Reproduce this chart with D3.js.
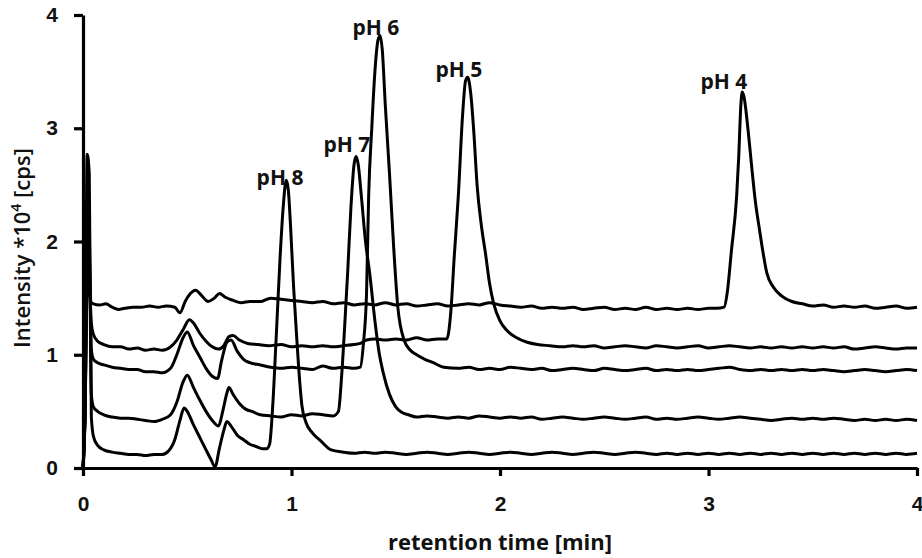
<!DOCTYPE html>
<html>
<head>
<meta charset="utf-8">
<script src="https://cdn.jsdelivr.net/npm/d3@7.9.0/dist/d3.min.js"></script>
<style>
  body { margin: 0; background: #fff; }
  svg { display: block; font-family: 'Open Sans', sans-serif; }
  .axis path, .axis line { stroke: #000; stroke-width: 3.2; }
  .axis text { font-size: 21px; font-weight: 700; fill: #111; }
</style>
</head>
<body>
<div id="chart"></div>
<script>
// retention time [min], intensity *10^4 [cps]
const pH4 = [[0,0],[0.01,0.5],[0.02,1.6],[0.03,1.55],[0.04,1.46],[0.05,1.45],[0.08,1.44],[0.11,1.45],[0.14,1.42],[0.17,1.40],[0.20,1.41],[0.24,1.42],[0.28,1.42],[0.32,1.43],[0.36,1.42],[0.40,1.43],[0.44,1.42],[0.465,1.37],[0.49,1.47],[0.515,1.54],[0.54,1.57],[0.57,1.52],[0.60,1.47],[0.63,1.50],[0.655,1.54],[0.68,1.51],[0.72,1.48],[0.76,1.46],[0.80,1.47],[0.85,1.47],[0.90,1.50],[0.95,1.49],[1.00,1.48],[1.05,1.47],[1.10,1.46],[1.15,1.47],[1.20,1.45],[1.25,1.46],[1.30,1.44],[1.35,1.45],[1.40,1.44],[1.45,1.46],[1.50,1.44],[1.55,1.45],[1.60,1.43],[1.65,1.44],[1.70,1.45],[1.75,1.43],[1.80,1.44],[1.85,1.45],[1.90,1.44],[1.95,1.46],[2.00,1.44],[2.05,1.43],[2.10,1.42],[2.15,1.43],[2.20,1.41],[2.25,1.42],[2.30,1.41],[2.35,1.42],[2.40,1.40],[2.45,1.41],[2.50,1.42],[2.55,1.40],[2.60,1.41],[2.65,1.40],[2.70,1.42],[2.75,1.40],[2.80,1.41],[2.85,1.40],[2.90,1.41],[2.95,1.40],[3.00,1.41],[3.04,1.41],[3.075,1.42],[3.09,1.55],[3.11,1.92],[3.135,2.40],[3.145,2.75],[3.155,3.20],[3.162,3.32],[3.17,3.28],[3.19,2.98],[3.205,2.70],[3.225,2.35],[3.245,2.10],[3.26,1.92],[3.28,1.72],[3.31,1.60],[3.35,1.52],[3.40,1.47],[3.45,1.45],[3.50,1.43],[3.55,1.44],[3.60,1.42],[3.65,1.43],[3.70,1.42],[3.75,1.43],[3.80,1.41],[3.85,1.42],[3.90,1.43],[3.95,1.41],[4.00,1.42]];

const pH5 = [[0,0],[0.01,0.5],[0.02,1.8],[0.03,1.7],[0.04,1.28],[0.05,1.18],[0.07,1.12],[0.10,1.09],[0.14,1.07],[0.18,1.07],[0.22,1.05],[0.26,1.06],[0.30,1.04],[0.34,1.05],[0.38,1.04],[0.42,1.07],[0.45,1.13],[0.48,1.22],[0.51,1.31],[0.53,1.28],[0.56,1.19],[0.59,1.12],[0.62,1.07],[0.65,1.05],[0.675,1.08],[0.70,1.16],[0.72,1.17],[0.75,1.13],[0.79,1.10],[0.84,1.09],[0.89,1.08],[0.95,1.09],[1.00,1.07],[1.05,1.08],[1.10,1.07],[1.15,1.08],[1.20,1.07],[1.25,1.08],[1.30,1.09],[1.33,1.10],[1.36,1.13],[1.40,1.14],[1.45,1.13],[1.50,1.14],[1.55,1.13],[1.60,1.15],[1.65,1.13],[1.70,1.14],[1.745,1.14],[1.765,1.40],[1.78,1.85],[1.80,2.40],[1.82,3.10],[1.835,3.42],[1.845,3.45],[1.86,3.30],[1.875,2.95],[1.89,2.50],[1.91,2.15],[1.93,1.90],[1.95,1.63],[1.97,1.45],[2.00,1.30],[2.03,1.22],[2.08,1.15],[2.13,1.11],[2.18,1.09],[2.24,1.08],[2.30,1.07],[2.35,1.08],[2.40,1.07],[2.45,1.08],[2.50,1.06],[2.55,1.07],[2.60,1.08],[2.65,1.07],[2.70,1.06],[2.75,1.08],[2.80,1.07],[2.85,1.06],[2.90,1.07],[2.95,1.08],[3.00,1.06],[3.05,1.07],[3.10,1.08],[3.15,1.07],[3.20,1.06],[3.25,1.07],[3.30,1.06],[3.35,1.07],[3.40,1.06],[3.45,1.07],[3.50,1.06],[3.55,1.07],[3.60,1.06],[3.65,1.07],[3.70,1.05],[3.75,1.06],[3.80,1.07],[3.85,1.06],[3.90,1.05],[3.95,1.06],[4.00,1.06]];

const pH6 = [[0,0],[0.01,0.5],[0.02,2.0],[0.03,1.9],[0.04,1.05],[0.05,0.96],[0.07,0.93],[0.10,0.91],[0.14,0.89],[0.18,0.88],[0.22,0.87],[0.26,0.87],[0.30,0.85],[0.34,0.85],[0.38,0.84],[0.42,0.88],[0.45,1.00],[0.48,1.15],[0.50,1.20],[0.53,1.08],[0.56,0.98],[0.59,0.88],[0.62,0.81],[0.645,0.79],[0.665,0.95],[0.69,1.11],[0.71,1.13],[0.74,1.03],[0.77,0.96],[0.80,0.93],[0.85,0.91],[0.90,0.89],[0.95,0.88],[1.00,0.89],[1.05,0.88],[1.10,0.87],[1.15,0.90],[1.20,0.88],[1.25,0.89],[1.30,0.88],[1.33,0.89],[1.345,1.10],[1.36,1.55],[1.37,2.40],[1.385,3.00],[1.40,3.50],[1.415,3.78],[1.425,3.82],[1.435,3.70],[1.45,3.20],[1.47,2.60],[1.49,1.95],[1.51,1.42],[1.54,1.13],[1.57,1.04],[1.60,1.00],[1.64,0.96],[1.68,0.93],[1.73,0.89],[1.80,0.88],[1.85,0.89],[1.90,0.87],[1.95,0.88],[2.00,0.87],[2.05,0.89],[2.10,0.88],[2.15,0.87],[2.20,0.88],[2.25,0.86],[2.30,0.87],[2.35,0.88],[2.40,0.87],[2.45,0.86],[2.50,0.88],[2.55,0.87],[2.60,0.86],[2.65,0.87],[2.70,0.88],[2.75,0.86],[2.80,0.87],[2.85,0.86],[2.90,0.87],[2.95,0.86],[3.00,0.87],[3.05,0.88],[3.10,0.89],[3.15,0.87],[3.20,0.86],[3.25,0.87],[3.30,0.86],[3.35,0.87],[3.40,0.86],[3.45,0.87],[3.50,0.86],[3.55,0.87],[3.60,0.86],[3.65,0.85],[3.70,0.86],[3.75,0.87],[3.80,0.86],[3.85,0.85],[3.90,0.86],[3.95,0.87],[4.00,0.86]];

const pH7 = [[0,0],[0.01,0.5],[0.02,2.3],[0.03,2.1],[0.04,0.65],[0.05,0.54],[0.07,0.50],[0.10,0.47],[0.14,0.45],[0.18,0.44],[0.22,0.44],[0.26,0.43],[0.30,0.42],[0.34,0.41],[0.38,0.43],[0.42,0.47],[0.45,0.58],[0.48,0.76],[0.50,0.82],[0.53,0.71],[0.56,0.60],[0.59,0.50],[0.62,0.42],[0.65,0.37],[0.67,0.50],[0.69,0.66],[0.70,0.71],[0.72,0.65],[0.75,0.57],[0.78,0.52],[0.81,0.50],[0.85,0.47],[0.90,0.46],[0.95,0.45],[1.00,0.47],[1.05,0.46],[1.10,0.48],[1.15,0.47],[1.20,0.46],[1.225,0.50],[1.24,0.80],[1.255,1.25],[1.27,1.75],[1.285,2.30],[1.30,2.68],[1.31,2.75],[1.32,2.68],[1.335,2.40],[1.355,2.00],[1.375,1.72],[1.40,1.30],[1.42,1.02],[1.44,0.84],[1.47,0.65],[1.50,0.54],[1.53,0.49],[1.56,0.47],[1.60,0.45],[1.65,0.46],[1.70,0.45],[1.75,0.44],[1.80,0.45],[1.85,0.44],[1.90,0.46],[1.95,0.45],[2.00,0.44],[2.05,0.45],[2.10,0.44],[2.15,0.45],[2.20,0.43],[2.25,0.44],[2.30,0.45],[2.35,0.44],[2.40,0.43],[2.45,0.44],[2.50,0.45],[2.55,0.44],[2.60,0.43],[2.65,0.44],[2.70,0.45],[2.75,0.43],[2.80,0.44],[2.85,0.43],[2.90,0.44],[2.95,0.45],[3.00,0.44],[3.05,0.43],[3.10,0.44],[3.15,0.45],[3.20,0.44],[3.25,0.43],[3.30,0.42],[3.35,0.43],[3.40,0.44],[3.45,0.43],[3.50,0.44],[3.55,0.43],[3.60,0.44],[3.65,0.43],[3.70,0.42],[3.75,0.43],[3.80,0.42],[3.85,0.43],[3.90,0.42],[3.95,0.43],[4.00,0.42]];

const pH8 = [[0,0],[0.01,0.6],[0.02,2.77],[0.03,2.6],[0.04,0.45],[0.05,0.28],[0.07,0.20],[0.10,0.16],[0.14,0.14],[0.18,0.13],[0.22,0.12],[0.26,0.12],[0.30,0.11],[0.34,0.12],[0.38,0.12],[0.41,0.15],[0.44,0.25],[0.465,0.42],[0.485,0.53],[0.50,0.50],[0.53,0.38],[0.56,0.27],[0.59,0.16],[0.615,0.07],[0.633,0.01],[0.655,0.18],[0.675,0.33],[0.69,0.41],[0.71,0.37],[0.74,0.29],[0.77,0.25],[0.80,0.21],[0.83,0.19],[0.86,0.17],[0.88,0.17],[0.895,0.21],[0.91,0.55],[0.926,1.13],[0.945,1.85],[0.96,2.30],[0.975,2.54],[0.985,2.45],[0.995,2.15],[1.01,1.60],[1.025,1.15],[1.04,0.75],[1.05,0.55],[1.07,0.40],[1.10,0.31],[1.14,0.24],[1.19,0.16],[1.25,0.14],[1.30,0.13],[1.35,0.14],[1.40,0.13],[1.45,0.14],[1.50,0.13],[1.55,0.12],[1.60,0.13],[1.65,0.14],[1.70,0.13],[1.75,0.12],[1.80,0.13],[1.85,0.14],[1.90,0.13],[1.95,0.12],[2.00,0.13],[2.05,0.14],[2.10,0.13],[2.15,0.12],[2.20,0.13],[2.25,0.14],[2.30,0.13],[2.35,0.12],[2.40,0.13],[2.45,0.14],[2.50,0.13],[2.55,0.12],[2.60,0.13],[2.65,0.14],[2.70,0.13],[2.75,0.12],[2.80,0.13],[2.85,0.12],[2.90,0.13],[2.95,0.12],[3.00,0.13],[3.05,0.12],[3.10,0.13],[3.15,0.12],[3.20,0.13],[3.25,0.12],[3.30,0.13],[3.35,0.12],[3.40,0.13],[3.45,0.12],[3.50,0.13],[3.55,0.12],[3.60,0.13],[3.65,0.12],[3.70,0.13],[3.75,0.12],[3.80,0.13],[3.85,0.12],[3.90,0.13],[3.95,0.12],[4.00,0.13]];

const traces = [pH8, pH7, pH6, pH5, pH4];

// peak labels and where they sit (time, intensity of text baseline)
const peakLabels = ['pH 8', 'pH 7', 'pH 6', 'pH 5', 'pH 4'];
const labelTime = [0.945, 1.266, 1.405, 1.803, 3.074];
const labelValue = [2.50, 2.79, 3.82, 3.45, 3.35];

const xTicks = [0, 1, 2, 3, 4];
const yTicks = [0, 1, 2, 3, 4];

const width = 922;
const height = 558;
const margin = { top: 15, right: 5, bottom: 90, left: 83 };

const svg = d3.select('#chart')
  .append('svg')
  .attr('width', width)
  .attr('height', height);

const xScale = d3.scaleLinear()
  .domain([0, 4])
  .range([margin.left, width - margin.right]);

const yScale = d3.scaleLinear()
  .domain([0, 4])
  .range([height - margin.bottom, margin.top]);

const line = d3.line()
  .x((d) => xScale(d[0]))
  .y((d) => yScale(d[1]))
  .curve(d3.curveMonotoneX);

svg.append('g')
  .selectAll('path')
  .data(traces)
  .join('path')
  .attr('d', line)
  .attr('fill', 'none')
  .attr('stroke', '#000')
  .attr('stroke-width', 3)
  .attr('stroke-linejoin', 'round');

// axes
const xAxis = d3.axisBottom(xScale)
  .tickValues(xTicks)
  .tickSizeInner(8)
  .tickSizeOuter(0)
  .tickPadding(20)
  .tickFormat(d3.format('d'));

const yAxis = d3.axisLeft(yScale)
  .tickValues(yTicks)
  .tickSizeInner(9)
  .tickSizeOuter(0)
  .tickPadding(16)
  .tickFormat(d3.format('d'));

svg.append('g')
  .attr('class', 'axis')
  .attr('transform', `translate(0, ${height - margin.bottom})`)
  .call(xAxis);

svg.append('g')
  .attr('class', 'axis')
  .attr('transform', `translate(${margin.left}, 0)`)
  .call(yAxis);

// peak labels
svg.append('g')
  .selectAll('text')
  .data(peakLabels)
  .join('text')
  .attr('x', (d, i) => xScale(labelTime[i]))
  .attr('y', (d, i) => yScale(labelValue[i]))
  .attr('text-anchor', 'middle')
  .attr('font-size', 21)
  .attr('font-weight', 700)
  .attr('fill', '#111')
  .text((d) => d);

// axis titles
svg.append('text')
  .attr('x', (margin.left + width - margin.right) / 2)
  .attr('y', 550)
  .attr('text-anchor', 'middle')
  .attr('font-size', 22)
  .attr('font-weight', 700)
  .attr('fill', '#111')
  .text('retention time [min]');

const yTitle = svg.append('text')
  .attr('transform', 'translate(30, 248) rotate(-90)')
  .attr('text-anchor', 'middle')
  .attr('font-size', 22)
  .attr('font-weight', 600)
  .attr('fill', '#111');
yTitle.append('tspan').text('Intensity *10');
yTitle.append('tspan').attr('font-size', 14).attr('dy', -9).text('4');
yTitle.append('tspan').attr('dy', 9).text(' [cps]');
</script>
</body>
</html>
